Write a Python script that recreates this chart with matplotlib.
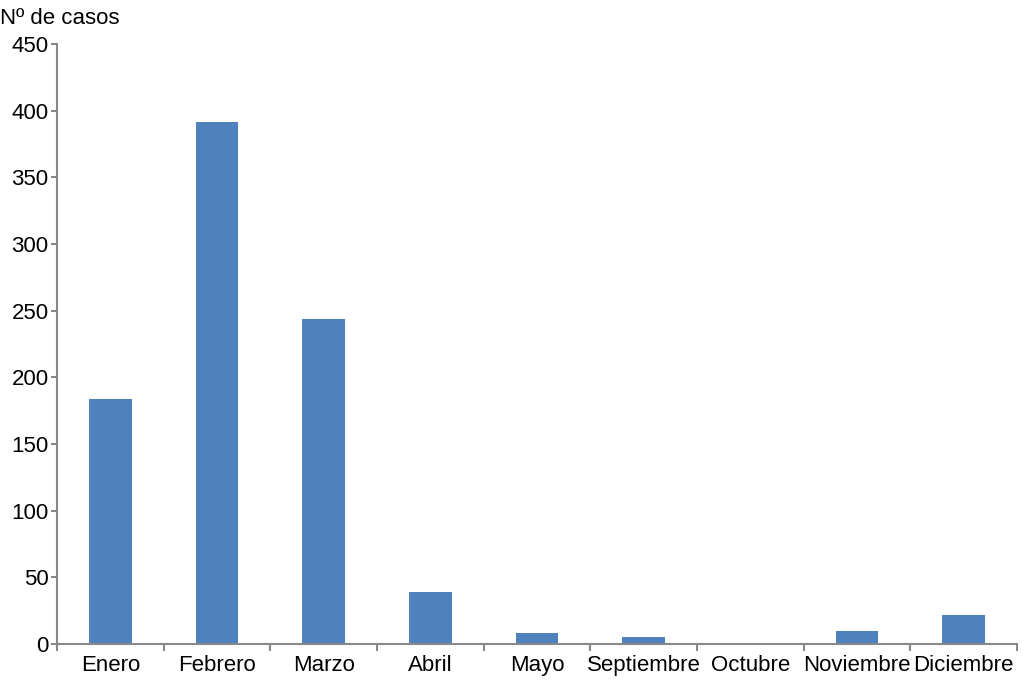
import numpy as np
import matplotlib
matplotlib.use('Agg')
import matplotlib.pyplot as plt

# Data
meses = ['Enero', 'Febrero', 'Marzo', 'Abril', 'Mayo',
         'Septiembre', 'Octubre', 'Noviembre', 'Diciembre']
casos = [184, 392, 244, 39, 8, 5, 0, 10, 22]

plt.rcParams['font.family'] = ['Liberation Sans', 'DejaVu Sans']

fig = plt.figure(figsize=(10.24, 6.8), dpi=100)
ax = fig.add_axes([0.0557, 0.053, 0.9373, 0.882])

x = np.arange(len(meses))
ax.bar(x, casos, width=0.4, color='#4f81bd')

ax.set_xlim(-0.5, len(meses) - 0.5)
ax.set_ylim(0, 450)
ax.set_yticks(np.arange(0, 451, 50))
ax.set_xticks(x)
ax.set_xticklabels(meses)
ax.set_xticks(np.arange(-0.5, len(meses), 1), minor=True)

for s in ['top', 'right']:
    ax.spines[s].set_visible(False)
for s in ['left', 'bottom']:
    ax.spines[s].set_color('#888888')
    ax.spines[s].set_linewidth(1.5)

ax.tick_params(axis='x', which='major', length=0, labelsize=16, pad=8)
ax.tick_params(axis='x', which='minor', length=5, color='#888888', width=1.5)
ax.tick_params(axis='y', length=4, color='#888888', width=1.5, labelsize=16, pad=2)

fig.text(0.0, 0.988, 'Nº de casos', fontsize=16, ha='left', va='top')

fig.savefig('out.png', dpi=100)
